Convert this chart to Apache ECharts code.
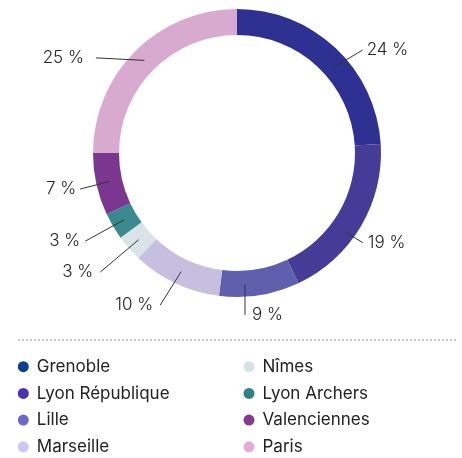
<!DOCTYPE html>
<html>
<head>
<meta charset="utf-8">
<script src="https://cdn.jsdelivr.net/npm/echarts@6/dist/echarts.min.js"></script>
<style>
	html, body { margin: 0; padding: 0; background: #fff; }
	#chart { width: 462px; height: 458px; }
</style>
</head>
<body>
<div id="chart"></div>
<script>
var categories = ["Grenoble", "Lyon République", "Lille", "Marseille", "Nîmes", "Lyon Archers", "Valenciennes", "Paris"];
var shares = [24, 19, 9, 10, 3, 3, 7, 25];
var leftLegend = ["Grenoble", "Lyon République", "Lille", "Marseille"];
var rightLegend = ["Nîmes", "Lyon Archers", "Valenciennes", "Paris"];

// slice colours and the (brighter) legend dot colours
var sliceColors = ["#2e3192", "#463c98", "#5f5fae", "#c6bfe0", "#d9e3e8", "#3a898e", "#7b368f", "#d9aacf"];
var dotColors = ["#0f3d91", "#4a30b5", "#6b68cc", "#cdc6f7", "#d6e1e6", "#2f8189", "#843a8e", "#e3acd6"];

var CX = 237, CY = 153;
// leader lines, relative to the library's anchor inside the ring:
// end dx, end dy, text gap, start dx, start dy
var leaderOffset = [
	[36, -7.5, 4, 6, 10.5],
	[13, 23, 5, -5, 12],
	[-12.5, 32.5, 7, -12.5, 2.6],
	[-21, 33.5, 7, 0, 0],
	[-38.5, 32.5, 7, 0, 0],
	[-39, 21.5, 5, 0, 0],
	[-29, 7.5, 4, 0, 0],
	[-48.5, -2.5, 12, 0, 0]
];

var chart = echarts.init(document.getElementById("chart"), null, { renderer: "canvas" });

var ringData = [],
	labelData = [],
	legendColors = {};

function each(arr, fn) { for (var i = 0; i < arr.length; i++) fn(i, arr[i]); }

each(categories, function(i, name) {
	ringData.push({ name: name, value: shares[i], itemStyle: { color: sliceColors[i] } });
	labelData.push({ name: name, value: shares[i] });
	legendColors[name] = dotColors[i];
});

function legendItems(names) {
	var r = [];
	each(names, function(i, n) {
		r.push({ name: n, icon: "circle", itemStyle: { color: legendColors[n] } });
	});
	return r;
}

var legendBase = {
	orient: "vertical",
	top: 358.2,
	padding: 0,
	itemWidth: 17,
	itemHeight: 11,
	itemGap: 9.7,
	selectedMode: false,
	textStyle: {
		fontFamily: "Inter",
		fontSize: 17,
		lineHeight: 17,
		color: "#222"
	}
};

var opt = {
	animation: false,
	legend: [
		Object.assign({}, legendBase, { left: 17.8, data: legendItems(leftLegend) }),
		Object.assign({}, legendBase, { left: 243.5, data: legendItems(rightLegend) })
	],
	graphic: [
		{
			type: "line",
			shape: { x1: 18, y1: 340, x2: 458, y2: 340 },
			style: { stroke: "#b0b0e6", lineWidth: 1.5, lineDash: [2, 2] },
			silent: true
		}
	],
	series: [
		{
			name: "ring",
			type: "pie",
			z: 1,
			center: [CX, CY],
			radius: [118, 144],
			startAngle: 90,
			clockwise: true,
			avoidLabelOverlap: false,
			label: { show: false },
			labelLine: { show: false },
			emphasis: { disabled: true },
			data: ringData
		},
		{
			name: "labels",
			type: "pie",
			z: 5,
			center: [CX, CY],
			radius: [0, 131],
			startAngle: 90,
			clockwise: true,
			silent: true,
			avoidLabelOverlap: false,
			itemStyle: { color: "rgba(0,0,0,0)" },
			emphasis: { disabled: true },
			label: {
				show: true,
				position: "outside",
				formatter: function(p) { return p.value + " %"; },
				fontFamily: "Inter",
				fontWeight: 300,
				fontSize: 17,
				color: "#222"
			},
			labelLine: {
				show: true,
				length: 0,
				length2: 0,
				lineStyle: { color: "#333", width: 1 }
			},
			labelLayout: function(p) {
				var pts = p.labelLinePoints,
					o = leaderOffset[p.dataIndex];
				if (!pts || !o) return {};
				var s = pts[0],
					ex = s[0] + o[0],
					ey = s[1] + o[1],
					right = s[0] >= CX;
				return {
					x: ex + (right ? o[2] : -o[2]),
					y: ey,
					labelLinePoints: [[s[0] + o[3], s[1] + o[4]], [ex, ey]]
				};
			},
			data: labelData
		}
	]
};

chart.setOption(opt);
</script>
</body>
</html>
